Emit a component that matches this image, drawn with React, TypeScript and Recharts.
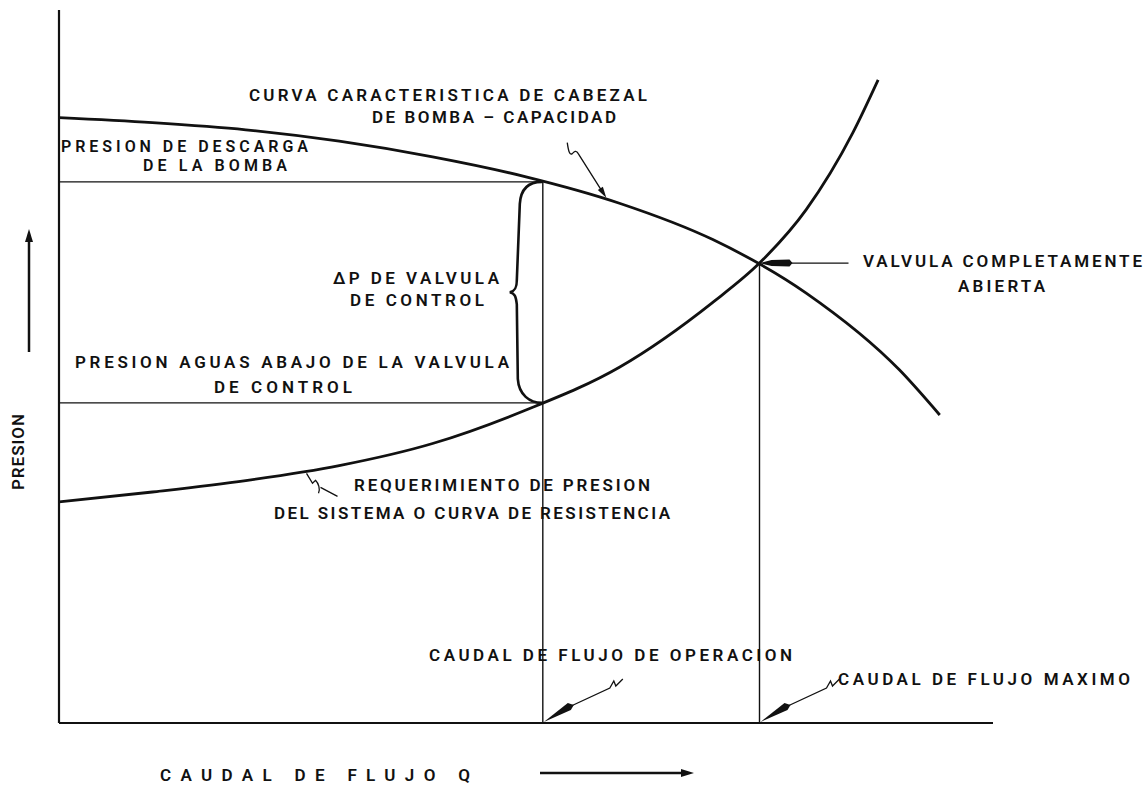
import React from "react";
import {
  ComposedChart,
  Line,
  ReferenceLine,
  ReferenceDot,
  Customized,
  XAxis,
  YAxis,
} from "recharts";

// ---- Data (flow Q vs pressure, arbitrary units 0..100) ----
const pumpQ = [0, 10, 20, 30, 40, 50, 60, 70, 80, 90, 94.3];
const pumpP = [84.9, 84.2, 83.2, 81.6, 79.4, 76.6, 72.9, 67.8, 60.3, 49.5, 43.2];
const sysQ = [0, 10, 20, 30, 40, 50, 60, 70, 75, 80, 85, 87.7];
const sysP = [31.0, 32.4, 34.0, 36.1, 39.2, 43.9, 49.9, 59.0, 64.5, 72.0, 82.8, 90.2];

const opQ = 51.8; // caudal de operacion
const opPumpP = 75.9; // presion de descarga
const opSysP = 44.9; // presion aguas abajo
const maxQ = 75.0; // caudal maximo
const maxP = 64.5; // valvula completamente abierta
const pumpLeader = { q: 58.7, p: 73.4 };
const sysLeader = { q: 26.5, p: 35.3 };

const labels = {
  pump1: "CURVA CARACTERISTICA DE CABEZAL",
  pump2: "DE BOMBA – CAPACIDAD",
  dis1: "PRESION DE DESCARGA",
  dis2: "DE LA BOMBA",
  dp1: "ΔP DE VALVULA",
  dp2: "DE CONTROL",
  down1: "PRESION AGUAS ABAJO DE LA VALVULA",
  down2: "DE CONTROL",
  sys1: "REQUERIMIENTO DE PRESION",
  sys2: "DEL SISTEMA O CURVA DE RESISTENCIA",
  valve1: "VALVULA COMPLETAMENTE",
  valve2: "ABIERTA",
  opFlow: "CAUDAL DE FLUJO DE OPERACION",
  maxFlow: "CAUDAL DE FLUJO MAXIMO",
  xTitle: "CAUDAL DE FLUJO Q",
  yTitle: "PRESION",
};

const pumpData = pumpQ.map((q, i) => ({ q, p: pumpP[i] }));
const sysData = sysQ.map((q, i) => ({ q, p: sysP[i] }));

const FONT = "Roboto, 'Liberation Sans', sans-serif";
const INK = "#111";
const FS = 17;
const FW = 600;

function arrowHead(tx: number, ty: number, fx: number, fy: number, len: number, hw: number) {
  const dx = tx - fx;
  const dy = ty - fy;
  const L = Math.sqrt(dx * dx + dy * dy) || 1;
  const ux = dx / L;
  const uy = dy / L;
  const bx = tx - ux * len;
  const by = ty - uy * len;
  const px = -uy * hw;
  const py = ux * hw;
  return `${tx},${ty} ${bx + px},${by + py} ${bx - px},${by - py}`;
}

function T(props: { x: number; y: number; w: number; fs?: number; children: string }) {
  return (
    <text
      x={props.x}
      y={props.y}
      textLength={props.w}
      lengthAdjust="spacing"
      fontFamily={FONT}
      fontWeight={FW}
      fontSize={props.fs ?? FS}
      fill={INK}
    >
      {props.children}
    </text>
  );
}

function Annotations() {
  return (
    <g>
      <T x={249} y={101} w={398}>{labels.pump1}</T>
      <T x={372} y={123} w={244}>{labels.pump2}</T>
      <T x={61} y={152} w={247} fs={16}>{labels.dis1}</T>
      <T x={143} y={171} w={144} fs={16}>{labels.dis2}</T>
      <T x={333} y={284} w={166}>{labels.dp1}</T>
      <T x={350} y={306} w={134}>{labels.dp2}</T>
      <T x={75} y={368} w={434}>{labels.down1}</T>
      <T x={214} y={393} w={138}>{labels.down2}</T>
      <T x={354} y={491} w={296}>{labels.sys1}</T>
      <T x={274} y={519} w={396}>{labels.sys2}</T>
      <T x={863} y={267} w={279}>{labels.valve1}</T>
      <T x={958} y={292} w={87}>{labels.valve2}</T>
      <T x={429} y={661} w={363}>{labels.opFlow}</T>
      <T x={838} y={685} w={292}>{labels.maxFlow}</T>
      <T x={160} y={781} w={310}>{labels.xTitle}</T>
      <text
        transform="translate(24,452) rotate(-90)"
        textAnchor="middle"
        fontFamily={FONT}
        fontWeight={FW}
        fontSize={FS}
        fill={INK}
        textLength={76}
        lengthAdjust="spacing"
      >
        {labels.yTitle}
      </text>
      {/* axis direction arrows */}
      <line x1={29} y1={352} x2={29} y2={240} stroke={INK} strokeWidth={2.5} />
      <polygon points={arrowHead(29, 229, 29, 352, 13, 4)} fill={INK} />
      <line x1={540} y1={773} x2={682} y2={773} stroke={INK} strokeWidth={2.5} />
      <polygon points={arrowHead(694, 773, 540, 773, 13, 4)} fill={INK} />
    </g>
  );
}

function BraceShape(props: any) {
  const { x1, y1, y2 } = props;
  if (x1 == null || y1 == null || y2 == null) return null;
  const top = Math.min(y1, y2);
  const bot = Math.max(y1, y2);
  const x = x1 - 1;
  const ym = (top + bot) / 2;
  const d = [
    `M ${x} ${top}`,
    `C ${x - 12} ${top}, ${x - 21} ${top + 6}, ${x - 22} ${top + 22}`,
    `L ${x - 25} ${ym - 12}`,
    `C ${x - 25} ${ym - 4}, ${x - 27} ${ym - 1}, ${x - 32} ${ym}`,
    `C ${x - 27} ${ym + 1}, ${x - 26} ${ym + 4}, ${x - 25} ${ym + 12}`,
    `L ${x - 24} ${bot - 24}`,
    `C ${x - 23} ${bot - 8}, ${x - 12} ${bot}, ${x} ${bot}`,
  ].join(" ");
  return <path d={d} fill="none" stroke={INK} strokeWidth={2.6} strokeLinecap="round" />;
}

function PumpLeader(props: any) {
  const { cx, cy } = props;
  if (cx == null || cy == null) return null;
  const d = `M ${cx - 40} ${cy - 57} C ${cx - 39} ${cy - 50}, ${cx - 38} ${cy - 44}, ${cx - 35} ${cy - 46} C ${cx - 33} ${cy - 48}, ${cx - 31} ${cy - 50}, ${cx - 29} ${cy - 46} L ${cx - 5} ${cy - 8}`;
  return (
    <g>
      <path d={d} fill="none" stroke={INK} strokeWidth={1.3} />
      <polygon points={arrowHead(cx - 1, cy - 2, cx - 29, cy - 46, 11, 3)} fill={INK} />
    </g>
  );
}

function SysLeader(props: any) {
  const { cx, cy } = props;
  if (cx == null || cy == null) return null;
  const d = `M ${cx} ${cy + 2} L ${cx + 6} ${cy + 12} L ${cx + 9} ${cy + 9} C ${cx + 12} ${cy + 12}, ${cx + 14} ${cy + 18}, ${cx + 12} ${cy + 22} M ${cx + 14} ${cy + 16} L ${cx + 31} ${cy + 25}`;
  return <path d={d} fill="none" stroke={INK} strokeWidth={1.3} />;
}

function AxisLeader(props: any) {
  const { cx, cy } = props;
  if (cx == null || cy == null) return null;
  const d = `M ${cx + 24} ${cy - 15} L ${cx + 67} ${cy - 35} L ${cx + 71} ${cy - 42} L ${cx + 73} ${cy - 37} L ${cx + 80} ${cy - 44}`;
  return (
    <g>
      <path d={d} fill="none" stroke={INK} strokeWidth={1.3} />
      <polygon
        points={`${cx + 1},${cy - 1} ${cx + 25},${cy - 20} ${cx + 31},${cy - 18} ${cx + 28},${cy - 13}`}
        fill={INK}
      />
    </g>
  );
}

function ValveArrow(props: any) {
  const { cx, cy } = props;
  if (cx == null || cy == null) return null;
  return (
    <g>
      <line x1={cx + 30} y1={cy} x2={cx + 89} y2={cy} stroke={INK} strokeWidth={1.3} />
      <polygon
        points={`${cx},${cy} ${cx + 12},${cy - 3} ${cx + 30},${cy - 3.5} ${cx + 33},${cy} ${cx + 30},${cy + 3.5} ${cx + 12},${cy + 3}`}
        fill={INK}
      />
    </g>
  );
}

export default function App() {
  return (
    <div style={{ position: "absolute", left: 0, top: 0, width: 1148, height: 787, background: "#fff" }}>
      <ComposedChart
        width={1148}
        height={787}
        margin={{ top: 10, right: 155, bottom: 64, left: 59 }}
      >
        <XAxis type="number" dataKey="q" domain={[0, 100]} hide allowDataOverflow />
        <YAxis type="number" dataKey="p" domain={[0, 100]} hide allowDataOverflow />

        {/* axes */}
        <ReferenceLine x={0} stroke={INK} strokeWidth={2.2} />
        <ReferenceLine y={0} stroke={INK} strokeWidth={2.2} />

        {/* operating point construction lines */}
        <ReferenceLine segment={[{ x: 0, y: opPumpP }, { x: opQ, y: opPumpP }]} stroke={INK} strokeWidth={1.4} />
        <ReferenceLine segment={[{ x: 0, y: opSysP }, { x: opQ, y: opSysP }]} stroke={INK} strokeWidth={1.4} />
        <ReferenceLine segment={[{ x: opQ, y: 0 }, { x: opQ, y: opPumpP }]} stroke={INK} strokeWidth={1.4} />
        <ReferenceLine segment={[{ x: maxQ, y: 0 }, { x: maxQ, y: maxP }]} stroke={INK} strokeWidth={1.4} />
        <ReferenceLine
          segment={[{ x: opQ, y: opPumpP }, { x: opQ, y: opSysP }]}
          shape={(p: any) => <BraceShape {...p} />}
        />

        <Line
          data={pumpData}
          dataKey="p"
          type="monotone"
          stroke={INK}
          strokeWidth={2.8}
          dot={false}
          activeDot={false}
          isAnimationActive={false}
        />
        <Line
          data={sysData}
          dataKey="p"
          type="monotone"
          stroke={INK}
          strokeWidth={2.8}
          dot={false}
          activeDot={false}
          isAnimationActive={false}
        />

        <ReferenceDot x={pumpLeader.q} y={pumpLeader.p} shape={(p: any) => <PumpLeader {...p} />} />
        <ReferenceDot x={sysLeader.q} y={sysLeader.p} shape={(p: any) => <SysLeader {...p} />} />
        <ReferenceDot x={opQ} y={0} shape={(p: any) => <AxisLeader {...p} />} />
        <ReferenceDot x={maxQ} y={0} shape={(p: any) => <AxisLeader {...p} />} />
        <ReferenceDot x={maxQ} y={maxP} shape={(p: any) => <ValveArrow {...p} />} />

        <Customized component={Annotations} />
      </ComposedChart>
    </div>
  );
}
